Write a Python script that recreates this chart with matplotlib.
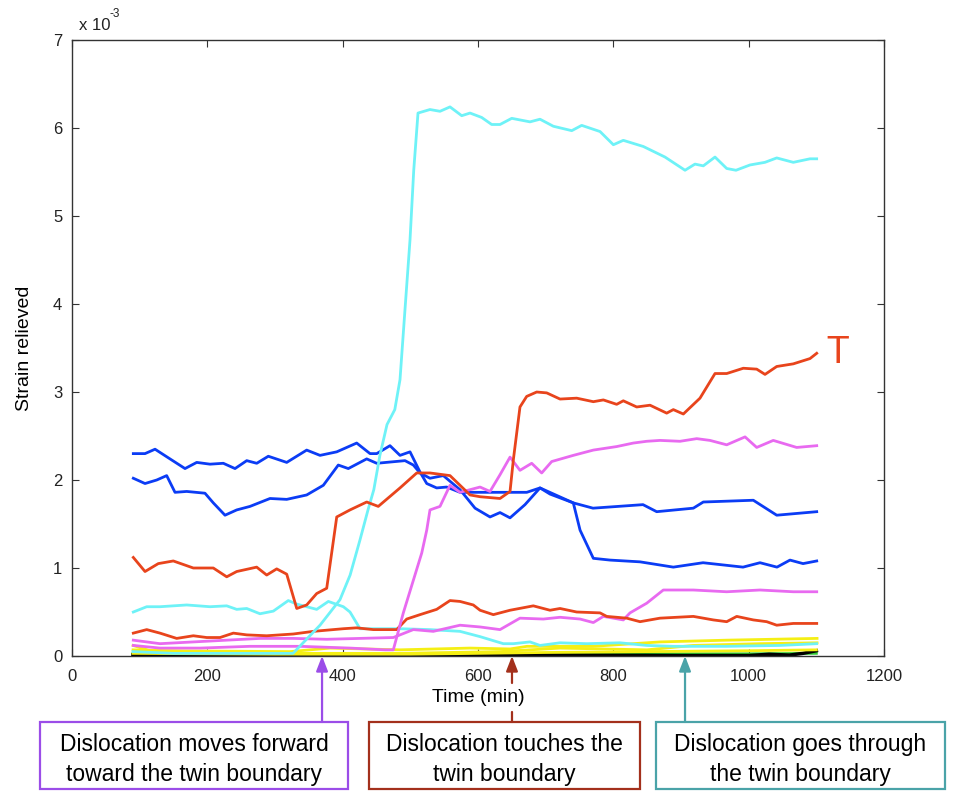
import matplotlib

matplotlib.use("Agg")

import matplotlib.pyplot as plt
from matplotlib.patches import Rectangle

plt.rcParams["font.family"] = ["Liberation Sans", "DejaVu Sans"]

# strain relieved values are in units of 1e-3, time in minutes
blue1_t = [90.6, 107.9, 122.7, 144.8, 167, 184.3, 203.9, 223.6, 240.9, 258.2, 273, 290.1, 317.3,
           346.8, 366.5, 391.2, 420.7, 440.4, 450.3, 469.9, 484.7, 499.5, 514.3, 524.2, 538.9, 553.7,
           573.4, 603, 672, 691.6, 740.8, 769.9, 843.8, 864, 918.2, 932.9, 1006.8, 1041.4, 1100.5]
blue1_y = [2.30, 2.30, 2.35, 2.24, 2.13, 2.20, 2.18, 2.19, 2.13, 2.22, 2.19, 2.27, 2.20,
           2.34, 2.28, 2.32, 2.42, 2.30, 2.30, 2.39, 2.28, 2.32, 2.09, 1.96, 1.91, 1.92,
           1.86, 1.86, 1.86, 1.91, 1.74, 1.68, 1.72, 1.64, 1.68, 1.75, 1.77, 1.60, 1.64]

blue2_t = [90.6, 107.9, 125.2, 139.9, 152.2, 169.5, 196.5, 208.8, 226.1, 243.4, 263, 292.6, 317.3,
           346.8, 371.4, 393.5, 408.3, 435.5, 450.3, 492.1, 504.4, 514.3, 529, 548.7, 573.4, 595.6,
           617.7, 632.5, 647.3, 669.4, 691.6, 706.4, 740.8, 750.8, 770.4, 795.1, 839.4, 888.6,
           932.5, 991.6, 1016.7, 1041.8, 1061, 1080.3, 1100.5]
blue2_y = [2.02, 1.96, 2.00, 2.05, 1.86, 1.87, 1.85, 1.74, 1.60, 1.66, 1.70, 1.79, 1.78,
           1.83, 1.94, 2.17, 2.13, 2.24, 2.19, 2.22, 2.17, 2.08, 2.02, 2.05, 1.89, 1.68,
           1.58, 1.63, 1.57, 1.72, 1.91, 1.84, 1.74, 1.43, 1.11, 1.09, 1.07, 1.01,
           1.06, 1.01, 1.06, 1.01, 1.09, 1.05, 1.08]

red1_t = [90.6, 107.9, 127.5, 149.7, 179.3, 208.8, 228.6, 243.4, 272.9, 287.7, 302.5, 317.3, 332.1,
          346.8, 361.6, 376.4, 391.2, 410.8, 435.5, 452.6, 484.7, 509.4, 529, 558.6, 573.4, 588.2,
          603, 632.5, 647.3, 652.2, 662, 671.9, 686.7, 701.5, 721.2, 745.8, 770.4, 785.2, 804.9,
          814.7, 834.5, 854.2, 878.8, 888.6, 903.4, 928, 950.2, 967.5, 992, 1011.8, 1024.1,
          1041.4, 1065.9, 1090.6, 1100.5]
red1_y = [1.12, 0.96, 1.05, 1.08, 1.00, 1.00, 0.90, 0.96, 1.01, 0.92, 0.99, 0.93, 0.54,
          0.58, 0.71, 0.77, 1.58, 1.66, 1.75, 1.70, 1.91, 2.08, 2.08, 2.05, 1.94, 1.83,
          1.81, 1.79, 1.87, 2.23, 2.83, 2.95, 3.00, 2.99, 2.92, 2.93, 2.89, 2.91, 2.86,
          2.90, 2.83, 2.85, 2.76, 2.80, 2.75, 2.93, 3.21, 3.21, 3.27, 3.26, 3.20,
          3.29, 3.32, 3.38, 3.44]

red2_t = [90.6, 110.4, 130, 154.7, 179.3, 199.1, 218.7, 238.4, 258.2, 287.7, 327, 356.6, 400.9,
          420.7, 445.3, 479.8, 494.6, 514.3, 538.9, 558.6, 573.4, 593, 603, 622.6, 647.3, 681.7,
          706.4, 721.2, 745.8, 780.3, 790.2, 819.7, 839.4, 868.9, 918.2, 947.7, 967.5, 982.3,
          1006.8, 1026.6, 1041.4, 1065.9, 1100.5]
red2_y = [0.26, 0.30, 0.26, 0.20, 0.23, 0.21, 0.21, 0.26, 0.24, 0.23, 0.25, 0.28, 0.31,
          0.32, 0.30, 0.30, 0.42, 0.47, 0.53, 0.63, 0.62, 0.58, 0.52, 0.47, 0.52, 0.57,
          0.52, 0.54, 0.50, 0.49, 0.45, 0.43, 0.39, 0.43, 0.45, 0.41, 0.39, 0.45,
          0.41, 0.39, 0.35, 0.37, 0.37]

mag1_t = [90.6, 130, 189.2, 263, 337, 410.8, 462.6, 474.8, 489.6, 504.4, 516.8, 524.2, 529, 543.8,
          558.6, 573.4, 588.2, 603, 617.7, 632.5, 647.3, 662, 679.3, 694.1, 708.9, 740.8, 770.4,
          804.9, 829.5, 849.3, 868.9, 898.5, 923.2, 942.8, 967.5, 994.6, 1011.8, 1036.3,
          1070.9, 1100.5]
mag1_y = [0.12, 0.09, 0.09, 0.11, 0.11, 0.09, 0.07, 0.07, 0.49, 0.86, 1.17, 1.43, 1.66, 1.70,
          1.94, 1.86, 1.89, 1.92, 1.87, 2.06, 2.26, 2.11, 2.19, 2.08, 2.21, 2.28, 2.34,
          2.38, 2.42, 2.44, 2.45, 2.44, 2.47, 2.45, 2.40, 2.49, 2.37, 2.45,
          2.37, 2.39]

mag2_t = [90.6, 130, 179.3, 228.6, 277.8, 327, 376.4, 425.6, 474.8, 504.4, 533.9, 573.4, 603,
          632.5, 662, 696.5, 721.2, 750.8, 770.4, 785.2, 814.7, 824.6, 849.3, 873.8, 918.2,
          967.5, 1016.7, 1065.9, 1100.5]
mag2_y = [0.18, 0.14, 0.16, 0.18, 0.20, 0.20, 0.19, 0.20, 0.21, 0.30, 0.28, 0.35, 0.33,
          0.30, 0.43, 0.42, 0.44, 0.42, 0.38, 0.45, 0.41, 0.49, 0.60, 0.75, 0.75,
          0.73, 0.75, 0.73, 0.73]

cyan1_t = [90, 150, 250, 326.6, 366.5, 396, 411, 425.6, 437.4, 446, 455, 465.5, 477, 484.7, 492,
           499.5, 505, 511.3, 529, 543.8, 558.6, 575.9, 588.2, 605.4, 620.2, 632.5, 649.8, 676.8,
           691.6, 711.3, 738.5, 753.2, 780.3, 800, 814.7, 844.3, 876.3, 905.9, 920.6, 932.9,
           950.2, 967.5, 981.2, 1001.9, 1024, 1041.4, 1065.9, 1090.5, 1100.4]
cyan1_y = [0.05, 0.03, 0.03, 0.03, 0.35, 0.64, 0.92, 1.32, 1.66, 1.89, 2.28, 2.63, 2.80, 3.14, 3.93,
           4.73, 5.52, 6.17, 6.21, 6.19, 6.24, 6.14, 6.17, 6.12, 6.04, 6.04, 6.11, 6.07,
           6.10, 6.02, 5.97, 6.03, 5.96, 5.81, 5.86, 5.79, 5.67, 5.52, 5.59, 5.57,
           5.67, 5.54, 5.52, 5.58, 5.61, 5.66, 5.61, 5.65, 5.65]

cyan2_t = [90.6, 110.4, 130, 169.5, 204, 228.6, 243.4, 258.2, 277.8, 297.5, 319.6, 332, 346.8,
           361.6, 378.8, 401, 410.8, 425.6, 455, 484.7, 529, 573.4, 603, 637.4, 652.2, 676.8,
           691.6, 721.1, 760.5, 809.8, 849.3, 888.6, 967.5, 1046.3, 1100.4]
cyan2_y = [0.50, 0.56, 0.56, 0.58, 0.56, 0.57, 0.53, 0.54, 0.48, 0.51, 0.63, 0.59, 0.56,
           0.53, 0.62, 0.56, 0.50, 0.31, 0.31, 0.31, 0.30, 0.28, 0.22, 0.14, 0.14, 0.16,
           0.12, 0.15, 0.14, 0.15, 0.12, 0.11, 0.11, 0.12, 0.14]

yellow1_t = [90.2, 115.3, 322.2, 381.3, 484.7, 588.2, 647.3, 672.4, 769.9, 868.9, 967.9, 1101]
yellow1_y = [0.12, 0.06, 0.05, 0.09, 0.07, 0.09, 0.08, 0.11, 0.11, 0.16, 0.18, 0.20]
yellow2_t = [90.2, 263, 484.7, 632.5, 721.2, 849.7, 917.7, 1016.7, 1101]
yellow2_y = [0.07, 0.03, 0.03, 0.05, 0.09, 0.07, 0.12, 0.14, 0.15]
yellow3_t = [90, 300, 500, 600, 700, 850, 1000, 1100]
yellow3_y = [0.03, 0.02, 0.02, 0.03, 0.04, 0.05, 0.06, 0.07]

green_t = [90, 400, 700, 1000, 1100]
green_y = [0.025, 0.025, 0.025, 0.025, 0.03]
black_t = [90, 350, 380, 420, 460, 520, 560, 640, 900, 1000, 1030, 1060, 1080, 1100]
black_y = [0.015, 0.015, 0.005, 0.02, 0.005, 0.02, 0.005, 0.015, 0.005, 0.005, 0.02, 0.01, 0.03, 0.06]

events_t = [369.5, 650.2, 905.9]
events_text = ["Dislocation moves forward\ntoward the twin boundary",
               "Dislocation touches the\ntwin boundary",
               "Dislocation goes through\nthe twin boundary"]
events_color = ["#9b4de8", "#a3301c", "#4aa3a8"]

BLUE = "#0b3cf5"
RED = "#e8441c"
MAGENTA = "#e86af0"
CYAN = "#6ef2f7"
YELLOW = "#f5ef14"

fig = plt.figure(figsize=(9.55, 7.94), dpi=100)
ax = fig.add_axes([0.0754, 0.1738, 0.8503, 0.7758])

lw = 2.0
ax.plot(green_t, green_y, color="#33cc33", lw=lw)
ax.plot(black_t, black_y, color="black", lw=lw + 0.5)
ax.plot(yellow3_t, yellow3_y, color=YELLOW, lw=lw)
ax.plot(yellow2_t, yellow2_y, color=YELLOW, lw=lw)
ax.plot(yellow1_t, yellow1_y, color=YELLOW, lw=lw)
ax.plot(cyan2_t, cyan2_y, color=CYAN, lw=lw)
ax.plot(mag2_t, mag2_y, color=MAGENTA, lw=lw)
ax.plot(red2_t, red2_y, color=RED, lw=lw)
ax.plot(blue1_t, blue1_y, color=BLUE, lw=lw)
ax.plot(blue2_t, blue2_y, color=BLUE, lw=lw)
ax.plot(mag1_t, mag1_y, color=MAGENTA, lw=lw)
ax.plot(cyan1_t, cyan1_y, color=CYAN, lw=lw)
ax.plot(red1_t, red1_y, color=RED, lw=lw)

ax.set_xlim(0, 1200)
ax.set_ylim(0, 7)
ax.set_xticks(range(0, 1201, 200))
ax.set_yticks(range(0, 8))
ax.tick_params(direction="in", length=5, width=0.8, top=True, right=True,
               labelsize=12, colors="#333333", labelcolor="#222222")
ax.tick_params(axis="x", pad=9)
ax.tick_params(axis="y", pad=7)
for s in ax.spines.values():
    s.set_color("#333333")
    s.set_linewidth(1.0)

ax.set_xlabel("Time (min)", fontsize=14, labelpad=4)
ax.set_ylabel("Strain relieved", fontsize=14, labelpad=14)
# MATLAB-style exponent label above the y axis
ax.text(0.008, 1.012, "x 10", transform=ax.transAxes, fontsize=12,
        color="#222222", ha="left", va="bottom")
ax.text(0.046, 1.032, "-3", transform=ax.transAxes, fontsize=8.5,
        color="#222222", ha="left", va="bottom")
ax.text(1100.5, 3.44, " T", color=RED, fontsize=27, ha="left", va="center")

# annotation boxes under the axes
boxes_x = [(0.0419, 0.3644), (0.3864, 0.6702), (0.6869, 0.9895)]
box_bottom, box_top = 0.006, 0.0907
for (x0, x1), txt, col, t in zip(boxes_x, events_text, events_color, events_t):
    fig.patches.append(Rectangle((x0, box_bottom), x1 - x0, box_top - box_bottom,
                                 transform=fig.transFigure, fill=False, edgecolor=col, lw=1.6))
    fig.text((x0 + x1) / 2, 0.0435, txt, ha="center", va="center",
             fontsize=16.5, linespacing=1.4, color="black")

arrow_kw = dict(arrowstyle="-|>,head_length=0.9,head_width=0.35", lw=1.6, shrinkA=0, shrinkB=0)
ax.annotate("", xy=(events_t[0], 0), xycoords="data", xytext=(events_t[0], box_top),
            textcoords=("data", "figure fraction"),
            arrowprops=dict(color=events_color[0], **arrow_kw), annotation_clip=False)
ax.annotate("", xy=(events_t[1], 0), xycoords="data", xytext=(events_t[1], 0.1398),
            textcoords=("data", "figure fraction"),
            arrowprops=dict(color=events_color[1], **arrow_kw), annotation_clip=False)
ax.annotate("", xy=(events_t[1], 0.1033), xycoords=("data", "figure fraction"),
            xytext=(events_t[1], box_top), textcoords=("data", "figure fraction"),
            arrowprops=dict(arrowstyle="-", color=events_color[1], lw=1.6,
                            shrinkA=0, shrinkB=0), annotation_clip=False)
ax.annotate("", xy=(events_t[2], 0), xycoords="data", xytext=(events_t[2], box_top),
            textcoords=("data", "figure fraction"),
            arrowprops=dict(color=events_color[2], **arrow_kw), annotation_clip=False)

fig.savefig("out.png", dpi=100)
plt.close(fig)
